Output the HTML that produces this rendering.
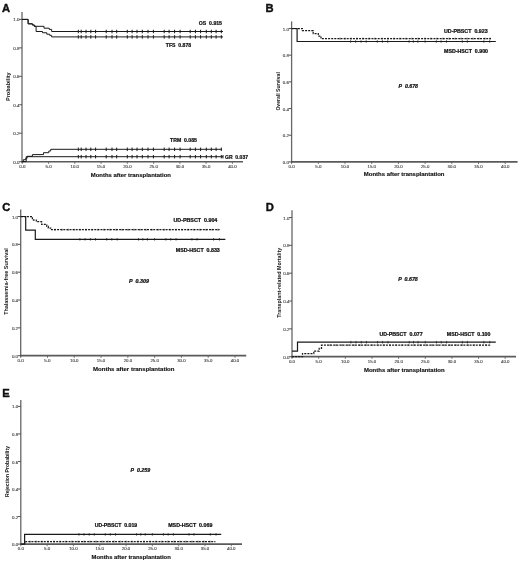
<!DOCTYPE html>
<html><head><meta charset="utf-8"><style>
html,body{margin:0;padding:0;background:#fff;width:520px;height:563px;overflow:hidden;font-family:"Liberation Sans", sans-serif;}
svg{display:block;filter:blur(0.35px);}
</style></head><body>
<svg width="520" height="563" viewBox="0 0 520 563" font-family='"Liberation Sans", sans-serif'><line x1="22.00" y1="12.00" x2="22.00" y2="162.70" stroke="#666" stroke-width="1.3"/>
<line x1="21.40" y1="161.70" x2="243.00" y2="161.70" stroke="#5a5a5a" stroke-width="1.5"/>
<line x1="19.20" y1="161.70" x2="22.00" y2="161.70" stroke="#444" stroke-width="0.9"/>
<text x="13.20" y="163.75" font-size="4.1" font-weight="normal" font-style="normal" fill="#444" text-anchor="start" stroke="#444" stroke-width="0.12" textLength="6.20" lengthAdjust="spacingAndGlyphs">0.0</text>
<line x1="19.20" y1="133.24" x2="22.00" y2="133.24" stroke="#444" stroke-width="0.9"/>
<text x="13.20" y="135.29" font-size="4.1" font-weight="normal" font-style="normal" fill="#444" text-anchor="start" stroke="#444" stroke-width="0.12" textLength="6.20" lengthAdjust="spacingAndGlyphs">0.2</text>
<line x1="19.20" y1="104.78" x2="22.00" y2="104.78" stroke="#444" stroke-width="0.9"/>
<text x="13.20" y="106.83" font-size="4.1" font-weight="normal" font-style="normal" fill="#444" text-anchor="start" stroke="#444" stroke-width="0.12" textLength="6.20" lengthAdjust="spacingAndGlyphs">0.4</text>
<line x1="19.20" y1="76.32" x2="22.00" y2="76.32" stroke="#444" stroke-width="0.9"/>
<text x="13.20" y="78.37" font-size="4.1" font-weight="normal" font-style="normal" fill="#444" text-anchor="start" stroke="#444" stroke-width="0.12" textLength="6.20" lengthAdjust="spacingAndGlyphs">0.6</text>
<line x1="19.20" y1="47.86" x2="22.00" y2="47.86" stroke="#444" stroke-width="0.9"/>
<text x="13.20" y="49.91" font-size="4.1" font-weight="normal" font-style="normal" fill="#444" text-anchor="start" stroke="#444" stroke-width="0.12" textLength="6.20" lengthAdjust="spacingAndGlyphs">0.8</text>
<line x1="19.20" y1="19.40" x2="22.00" y2="19.40" stroke="#444" stroke-width="0.9"/>
<text x="13.20" y="21.45" font-size="4.1" font-weight="normal" font-style="normal" fill="#444" text-anchor="start" stroke="#444" stroke-width="0.12" textLength="6.20" lengthAdjust="spacingAndGlyphs">1.0</text>
<line x1="22.30" y1="161.70" x2="22.30" y2="163.90" stroke="#5a5a5a" stroke-width="0.8"/>
<text x="19.20" y="168.45" font-size="4.1" font-weight="normal" font-style="normal" fill="#444" text-anchor="start" stroke="#444" stroke-width="0.12" textLength="6.20" lengthAdjust="spacingAndGlyphs">0.0</text>
<line x1="48.56" y1="161.70" x2="48.56" y2="163.90" stroke="#5a5a5a" stroke-width="0.8"/>
<text x="45.46" y="168.45" font-size="4.1" font-weight="normal" font-style="normal" fill="#444" text-anchor="start" stroke="#444" stroke-width="0.12" textLength="6.20" lengthAdjust="spacingAndGlyphs">5.0</text>
<line x1="74.83" y1="161.70" x2="74.83" y2="163.90" stroke="#5a5a5a" stroke-width="0.8"/>
<text x="70.62" y="168.45" font-size="4.1" font-weight="normal" font-style="normal" fill="#444" text-anchor="start" stroke="#444" stroke-width="0.12" textLength="8.40" lengthAdjust="spacingAndGlyphs">10.0</text>
<line x1="101.09" y1="161.70" x2="101.09" y2="163.90" stroke="#5a5a5a" stroke-width="0.8"/>
<text x="96.89" y="168.45" font-size="4.1" font-weight="normal" font-style="normal" fill="#444" text-anchor="start" stroke="#444" stroke-width="0.12" textLength="8.40" lengthAdjust="spacingAndGlyphs">15.0</text>
<line x1="127.35" y1="161.70" x2="127.35" y2="163.90" stroke="#5a5a5a" stroke-width="0.8"/>
<text x="123.15" y="168.45" font-size="4.1" font-weight="normal" font-style="normal" fill="#444" text-anchor="start" stroke="#444" stroke-width="0.12" textLength="8.40" lengthAdjust="spacingAndGlyphs">20.0</text>
<line x1="153.61" y1="161.70" x2="153.61" y2="163.90" stroke="#5a5a5a" stroke-width="0.8"/>
<text x="149.41" y="168.45" font-size="4.1" font-weight="normal" font-style="normal" fill="#444" text-anchor="start" stroke="#444" stroke-width="0.12" textLength="8.40" lengthAdjust="spacingAndGlyphs">25.0</text>
<line x1="179.88" y1="161.70" x2="179.88" y2="163.90" stroke="#5a5a5a" stroke-width="0.8"/>
<text x="175.68" y="168.45" font-size="4.1" font-weight="normal" font-style="normal" fill="#444" text-anchor="start" stroke="#444" stroke-width="0.12" textLength="8.40" lengthAdjust="spacingAndGlyphs">30.0</text>
<line x1="206.14" y1="161.70" x2="206.14" y2="163.90" stroke="#5a5a5a" stroke-width="0.8"/>
<text x="201.94" y="168.45" font-size="4.1" font-weight="normal" font-style="normal" fill="#444" text-anchor="start" stroke="#444" stroke-width="0.12" textLength="8.40" lengthAdjust="spacingAndGlyphs">35.0</text>
<line x1="232.40" y1="161.70" x2="232.40" y2="163.90" stroke="#5a5a5a" stroke-width="0.8"/>
<text x="228.20" y="168.45" font-size="4.1" font-weight="normal" font-style="normal" fill="#444" text-anchor="start" stroke="#444" stroke-width="0.12" textLength="8.40" lengthAdjust="spacingAndGlyphs">40.0</text>
<text x="2.00" y="11.50" font-size="11.2" font-weight="bold" font-style="normal" fill="#111" text-anchor="start" stroke="#111" stroke-width="0.4">A</text>
<text x="10.20" y="86.70" font-size="5.5" font-weight="bold" font-style="normal" fill="#111" text-anchor="middle" textLength="28.60" lengthAdjust="spacingAndGlyphs" transform="rotate(-90 10.20 86.70)">Probability</text>
<text x="90.70" y="176.70" font-size="6" font-weight="bold" font-style="normal" fill="#111" text-anchor="start" stroke="#111" stroke-width="0.15" textLength="80.30" lengthAdjust="spacingAndGlyphs">Months after transplantation</text>
<path d="M22.10,19.40 H28.10 V23.80 H32.40 V25.00 H34.30 V26.30 H44.00 V28.20 H49.25 V29.40 H51.65 V31.50 H223.00 V31.50" fill="none" stroke="#1a1a1a" stroke-width="1.0"/>
<path d="M22.10,19.40 H28.10 V23.80 H32.40 V25.00 H34.30 V26.30 H36.10 V31.50 H42.50 V32.75 H46.80 V34.20 H49.70 V35.40 H51.60 V36.90 H223.00 V36.90" fill="none" stroke="#1a1a1a" stroke-width="1.0"/>
<line x1="78.30" y1="29.75" x2="78.30" y2="33.25" stroke="#1a1a1a" stroke-width="1.0"/>
<line x1="81.20" y1="29.75" x2="81.20" y2="33.25" stroke="#1a1a1a" stroke-width="1.0"/>
<line x1="86.00" y1="29.75" x2="86.00" y2="33.25" stroke="#1a1a1a" stroke-width="1.0"/>
<line x1="90.80" y1="29.75" x2="90.80" y2="33.25" stroke="#1a1a1a" stroke-width="1.0"/>
<line x1="95.60" y1="29.75" x2="95.60" y2="33.25" stroke="#1a1a1a" stroke-width="1.0"/>
<line x1="106.20" y1="29.75" x2="106.20" y2="33.25" stroke="#1a1a1a" stroke-width="1.0"/>
<line x1="112.00" y1="29.75" x2="112.00" y2="33.25" stroke="#1a1a1a" stroke-width="1.0"/>
<line x1="116.70" y1="29.75" x2="116.70" y2="33.25" stroke="#1a1a1a" stroke-width="1.0"/>
<line x1="127.30" y1="29.75" x2="127.30" y2="33.25" stroke="#1a1a1a" stroke-width="1.0"/>
<line x1="132.10" y1="29.75" x2="132.10" y2="33.25" stroke="#1a1a1a" stroke-width="1.0"/>
<line x1="137.00" y1="29.75" x2="137.00" y2="33.25" stroke="#1a1a1a" stroke-width="1.0"/>
<line x1="142.30" y1="29.75" x2="142.30" y2="33.25" stroke="#1a1a1a" stroke-width="1.0"/>
<line x1="148.00" y1="29.75" x2="148.00" y2="33.25" stroke="#1a1a1a" stroke-width="1.0"/>
<line x1="153.40" y1="29.75" x2="153.40" y2="33.25" stroke="#1a1a1a" stroke-width="1.0"/>
<line x1="164.20" y1="29.75" x2="164.20" y2="33.25" stroke="#1a1a1a" stroke-width="1.0"/>
<line x1="169.10" y1="29.75" x2="169.10" y2="33.25" stroke="#1a1a1a" stroke-width="1.0"/>
<line x1="174.60" y1="29.75" x2="174.60" y2="33.25" stroke="#1a1a1a" stroke-width="1.0"/>
<line x1="180.10" y1="29.75" x2="180.10" y2="33.25" stroke="#1a1a1a" stroke-width="1.0"/>
<line x1="190.20" y1="29.75" x2="190.20" y2="33.25" stroke="#1a1a1a" stroke-width="1.0"/>
<line x1="195.40" y1="29.75" x2="195.40" y2="33.25" stroke="#1a1a1a" stroke-width="1.0"/>
<line x1="200.60" y1="29.75" x2="200.60" y2="33.25" stroke="#1a1a1a" stroke-width="1.0"/>
<line x1="206.30" y1="29.75" x2="206.30" y2="33.25" stroke="#1a1a1a" stroke-width="1.0"/>
<line x1="211.30" y1="29.75" x2="211.30" y2="33.25" stroke="#1a1a1a" stroke-width="1.0"/>
<line x1="216.10" y1="29.75" x2="216.10" y2="33.25" stroke="#1a1a1a" stroke-width="1.0"/>
<line x1="221.30" y1="29.75" x2="221.30" y2="33.25" stroke="#1a1a1a" stroke-width="1.0"/>
<line x1="78.30" y1="35.15" x2="78.30" y2="38.65" stroke="#1a1a1a" stroke-width="1.0"/>
<line x1="81.20" y1="35.15" x2="81.20" y2="38.65" stroke="#1a1a1a" stroke-width="1.0"/>
<line x1="86.00" y1="35.15" x2="86.00" y2="38.65" stroke="#1a1a1a" stroke-width="1.0"/>
<line x1="90.80" y1="35.15" x2="90.80" y2="38.65" stroke="#1a1a1a" stroke-width="1.0"/>
<line x1="95.60" y1="35.15" x2="95.60" y2="38.65" stroke="#1a1a1a" stroke-width="1.0"/>
<line x1="106.20" y1="35.15" x2="106.20" y2="38.65" stroke="#1a1a1a" stroke-width="1.0"/>
<line x1="112.00" y1="35.15" x2="112.00" y2="38.65" stroke="#1a1a1a" stroke-width="1.0"/>
<line x1="116.70" y1="35.15" x2="116.70" y2="38.65" stroke="#1a1a1a" stroke-width="1.0"/>
<line x1="127.30" y1="35.15" x2="127.30" y2="38.65" stroke="#1a1a1a" stroke-width="1.0"/>
<line x1="132.10" y1="35.15" x2="132.10" y2="38.65" stroke="#1a1a1a" stroke-width="1.0"/>
<line x1="137.00" y1="35.15" x2="137.00" y2="38.65" stroke="#1a1a1a" stroke-width="1.0"/>
<line x1="142.30" y1="35.15" x2="142.30" y2="38.65" stroke="#1a1a1a" stroke-width="1.0"/>
<line x1="148.00" y1="35.15" x2="148.00" y2="38.65" stroke="#1a1a1a" stroke-width="1.0"/>
<line x1="153.40" y1="35.15" x2="153.40" y2="38.65" stroke="#1a1a1a" stroke-width="1.0"/>
<line x1="164.20" y1="35.15" x2="164.20" y2="38.65" stroke="#1a1a1a" stroke-width="1.0"/>
<line x1="169.10" y1="35.15" x2="169.10" y2="38.65" stroke="#1a1a1a" stroke-width="1.0"/>
<line x1="174.60" y1="35.15" x2="174.60" y2="38.65" stroke="#1a1a1a" stroke-width="1.0"/>
<line x1="180.10" y1="35.15" x2="180.10" y2="38.65" stroke="#1a1a1a" stroke-width="1.0"/>
<line x1="190.20" y1="35.15" x2="190.20" y2="38.65" stroke="#1a1a1a" stroke-width="1.0"/>
<line x1="195.40" y1="35.15" x2="195.40" y2="38.65" stroke="#1a1a1a" stroke-width="1.0"/>
<line x1="200.60" y1="35.15" x2="200.60" y2="38.65" stroke="#1a1a1a" stroke-width="1.0"/>
<line x1="206.30" y1="35.15" x2="206.30" y2="38.65" stroke="#1a1a1a" stroke-width="1.0"/>
<line x1="211.30" y1="35.15" x2="211.30" y2="38.65" stroke="#1a1a1a" stroke-width="1.0"/>
<line x1="216.10" y1="35.15" x2="216.10" y2="38.65" stroke="#1a1a1a" stroke-width="1.0"/>
<line x1="221.30" y1="35.15" x2="221.30" y2="38.65" stroke="#1a1a1a" stroke-width="1.0"/>
<path d="M22.10,161.60 H23.30 V159.70 H25.70 V158.30 H27.10 V156.30 H32.40 V154.60 H43.50 V152.70 H48.80 V151.00 H50.70 V149.30 H222.00 V149.30" fill="none" stroke="#1a1a1a" stroke-width="1.0"/>
<path d="M22.10,161.60 H26.20 V156.70 H223.00 V156.70" fill="none" stroke="#1a1a1a" stroke-width="1.0"/>
<line x1="78.30" y1="147.55" x2="78.30" y2="151.05" stroke="#1a1a1a" stroke-width="1.0"/>
<line x1="81.20" y1="147.55" x2="81.20" y2="151.05" stroke="#1a1a1a" stroke-width="1.0"/>
<line x1="86.00" y1="147.55" x2="86.00" y2="151.05" stroke="#1a1a1a" stroke-width="1.0"/>
<line x1="90.80" y1="147.55" x2="90.80" y2="151.05" stroke="#1a1a1a" stroke-width="1.0"/>
<line x1="95.60" y1="147.55" x2="95.60" y2="151.05" stroke="#1a1a1a" stroke-width="1.0"/>
<line x1="106.20" y1="147.55" x2="106.20" y2="151.05" stroke="#1a1a1a" stroke-width="1.0"/>
<line x1="112.00" y1="147.55" x2="112.00" y2="151.05" stroke="#1a1a1a" stroke-width="1.0"/>
<line x1="116.70" y1="147.55" x2="116.70" y2="151.05" stroke="#1a1a1a" stroke-width="1.0"/>
<line x1="127.30" y1="147.55" x2="127.30" y2="151.05" stroke="#1a1a1a" stroke-width="1.0"/>
<line x1="132.10" y1="147.55" x2="132.10" y2="151.05" stroke="#1a1a1a" stroke-width="1.0"/>
<line x1="137.00" y1="147.55" x2="137.00" y2="151.05" stroke="#1a1a1a" stroke-width="1.0"/>
<line x1="142.30" y1="147.55" x2="142.30" y2="151.05" stroke="#1a1a1a" stroke-width="1.0"/>
<line x1="148.00" y1="147.55" x2="148.00" y2="151.05" stroke="#1a1a1a" stroke-width="1.0"/>
<line x1="153.40" y1="147.55" x2="153.40" y2="151.05" stroke="#1a1a1a" stroke-width="1.0"/>
<line x1="164.20" y1="147.55" x2="164.20" y2="151.05" stroke="#1a1a1a" stroke-width="1.0"/>
<line x1="169.10" y1="147.55" x2="169.10" y2="151.05" stroke="#1a1a1a" stroke-width="1.0"/>
<line x1="174.60" y1="147.55" x2="174.60" y2="151.05" stroke="#1a1a1a" stroke-width="1.0"/>
<line x1="180.10" y1="147.55" x2="180.10" y2="151.05" stroke="#1a1a1a" stroke-width="1.0"/>
<line x1="190.20" y1="147.55" x2="190.20" y2="151.05" stroke="#1a1a1a" stroke-width="1.0"/>
<line x1="195.40" y1="147.55" x2="195.40" y2="151.05" stroke="#1a1a1a" stroke-width="1.0"/>
<line x1="200.60" y1="147.55" x2="200.60" y2="151.05" stroke="#1a1a1a" stroke-width="1.0"/>
<line x1="206.30" y1="147.55" x2="206.30" y2="151.05" stroke="#1a1a1a" stroke-width="1.0"/>
<line x1="211.30" y1="147.55" x2="211.30" y2="151.05" stroke="#1a1a1a" stroke-width="1.0"/>
<line x1="216.10" y1="147.55" x2="216.10" y2="151.05" stroke="#1a1a1a" stroke-width="1.0"/>
<line x1="221.30" y1="147.55" x2="221.30" y2="151.05" stroke="#1a1a1a" stroke-width="1.0"/>
<line x1="78.30" y1="154.95" x2="78.30" y2="158.45" stroke="#1a1a1a" stroke-width="1.0"/>
<line x1="81.20" y1="154.95" x2="81.20" y2="158.45" stroke="#1a1a1a" stroke-width="1.0"/>
<line x1="86.00" y1="154.95" x2="86.00" y2="158.45" stroke="#1a1a1a" stroke-width="1.0"/>
<line x1="90.80" y1="154.95" x2="90.80" y2="158.45" stroke="#1a1a1a" stroke-width="1.0"/>
<line x1="95.60" y1="154.95" x2="95.60" y2="158.45" stroke="#1a1a1a" stroke-width="1.0"/>
<line x1="106.20" y1="154.95" x2="106.20" y2="158.45" stroke="#1a1a1a" stroke-width="1.0"/>
<line x1="112.00" y1="154.95" x2="112.00" y2="158.45" stroke="#1a1a1a" stroke-width="1.0"/>
<line x1="116.70" y1="154.95" x2="116.70" y2="158.45" stroke="#1a1a1a" stroke-width="1.0"/>
<line x1="127.30" y1="154.95" x2="127.30" y2="158.45" stroke="#1a1a1a" stroke-width="1.0"/>
<line x1="132.10" y1="154.95" x2="132.10" y2="158.45" stroke="#1a1a1a" stroke-width="1.0"/>
<line x1="137.00" y1="154.95" x2="137.00" y2="158.45" stroke="#1a1a1a" stroke-width="1.0"/>
<line x1="142.30" y1="154.95" x2="142.30" y2="158.45" stroke="#1a1a1a" stroke-width="1.0"/>
<line x1="148.00" y1="154.95" x2="148.00" y2="158.45" stroke="#1a1a1a" stroke-width="1.0"/>
<line x1="153.40" y1="154.95" x2="153.40" y2="158.45" stroke="#1a1a1a" stroke-width="1.0"/>
<line x1="164.20" y1="154.95" x2="164.20" y2="158.45" stroke="#1a1a1a" stroke-width="1.0"/>
<line x1="169.10" y1="154.95" x2="169.10" y2="158.45" stroke="#1a1a1a" stroke-width="1.0"/>
<line x1="174.60" y1="154.95" x2="174.60" y2="158.45" stroke="#1a1a1a" stroke-width="1.0"/>
<line x1="180.10" y1="154.95" x2="180.10" y2="158.45" stroke="#1a1a1a" stroke-width="1.0"/>
<line x1="190.20" y1="154.95" x2="190.20" y2="158.45" stroke="#1a1a1a" stroke-width="1.0"/>
<line x1="195.40" y1="154.95" x2="195.40" y2="158.45" stroke="#1a1a1a" stroke-width="1.0"/>
<line x1="200.60" y1="154.95" x2="200.60" y2="158.45" stroke="#1a1a1a" stroke-width="1.0"/>
<line x1="206.30" y1="154.95" x2="206.30" y2="158.45" stroke="#1a1a1a" stroke-width="1.0"/>
<line x1="211.30" y1="154.95" x2="211.30" y2="158.45" stroke="#1a1a1a" stroke-width="1.0"/>
<line x1="216.10" y1="154.95" x2="216.10" y2="158.45" stroke="#1a1a1a" stroke-width="1.0"/>
<line x1="221.30" y1="154.95" x2="221.30" y2="158.45" stroke="#1a1a1a" stroke-width="1.0"/>
<line x1="223.00" y1="154.95" x2="223.00" y2="158.45" stroke="#1a1a1a" stroke-width="1.0"/>
<text x="198.80" y="24.54" font-size="4.9" font-weight="bold" font-style="normal" fill="#111" text-anchor="start" stroke="#111" stroke-width="0.22" textLength="23.20" lengthAdjust="spacingAndGlyphs">OS&#160;&#160;0.915</text>
<text x="165.80" y="47.14" font-size="4.9" font-weight="bold" font-style="normal" fill="#111" text-anchor="start" stroke="#111" stroke-width="0.22" textLength="25.40" lengthAdjust="spacingAndGlyphs">TFS&#160;&#160;0.878</text>
<text x="170.00" y="142.44" font-size="4.9" font-weight="bold" font-style="normal" fill="#111" text-anchor="start" stroke="#111" stroke-width="0.22" textLength="27.00" lengthAdjust="spacingAndGlyphs">TRM&#160;&#160;0.085</text>
<text x="225.00" y="158.74" font-size="4.9" font-weight="bold" font-style="normal" fill="#111" text-anchor="start" stroke="#111" stroke-width="0.22" textLength="23.00" lengthAdjust="spacingAndGlyphs">GR&#160;&#160;0.037</text>
<line x1="291.60" y1="21.40" x2="291.60" y2="162.90" stroke="#666" stroke-width="1.3"/>
<line x1="291.00" y1="161.90" x2="517.60" y2="161.90" stroke="#5a5a5a" stroke-width="1.75"/>
<line x1="288.80" y1="161.90" x2="291.60" y2="161.90" stroke="#444" stroke-width="0.9"/>
<text x="282.80" y="163.95" font-size="4.1" font-weight="normal" font-style="normal" fill="#444" text-anchor="start" stroke="#444" stroke-width="0.12" textLength="6.20" lengthAdjust="spacingAndGlyphs">0.0</text>
<line x1="288.80" y1="135.22" x2="291.60" y2="135.22" stroke="#444" stroke-width="0.9"/>
<text x="282.80" y="137.27" font-size="4.1" font-weight="normal" font-style="normal" fill="#444" text-anchor="start" stroke="#444" stroke-width="0.12" textLength="6.20" lengthAdjust="spacingAndGlyphs">0.2</text>
<line x1="288.80" y1="108.54" x2="291.60" y2="108.54" stroke="#444" stroke-width="0.9"/>
<text x="282.80" y="110.59" font-size="4.1" font-weight="normal" font-style="normal" fill="#444" text-anchor="start" stroke="#444" stroke-width="0.12" textLength="6.20" lengthAdjust="spacingAndGlyphs">0.4</text>
<line x1="288.80" y1="81.86" x2="291.60" y2="81.86" stroke="#444" stroke-width="0.9"/>
<text x="282.80" y="83.91" font-size="4.1" font-weight="normal" font-style="normal" fill="#444" text-anchor="start" stroke="#444" stroke-width="0.12" textLength="6.20" lengthAdjust="spacingAndGlyphs">0.6</text>
<line x1="288.80" y1="55.18" x2="291.60" y2="55.18" stroke="#444" stroke-width="0.9"/>
<text x="282.80" y="57.23" font-size="4.1" font-weight="normal" font-style="normal" fill="#444" text-anchor="start" stroke="#444" stroke-width="0.12" textLength="6.20" lengthAdjust="spacingAndGlyphs">0.8</text>
<line x1="288.80" y1="28.50" x2="291.60" y2="28.50" stroke="#444" stroke-width="0.9"/>
<text x="282.80" y="30.55" font-size="4.1" font-weight="normal" font-style="normal" fill="#444" text-anchor="start" stroke="#444" stroke-width="0.12" textLength="6.20" lengthAdjust="spacingAndGlyphs">1.0</text>
<line x1="291.60" y1="161.90" x2="291.60" y2="164.10" stroke="#5a5a5a" stroke-width="0.8"/>
<text x="288.50" y="168.00" font-size="4.1" font-weight="normal" font-style="normal" fill="#444" text-anchor="start" stroke="#444" stroke-width="0.12" textLength="6.20" lengthAdjust="spacingAndGlyphs">0.0</text>
<line x1="318.30" y1="161.90" x2="318.30" y2="164.10" stroke="#5a5a5a" stroke-width="0.8"/>
<text x="315.20" y="168.00" font-size="4.1" font-weight="normal" font-style="normal" fill="#444" text-anchor="start" stroke="#444" stroke-width="0.12" textLength="6.20" lengthAdjust="spacingAndGlyphs">5.0</text>
<line x1="345.00" y1="161.90" x2="345.00" y2="164.10" stroke="#5a5a5a" stroke-width="0.8"/>
<text x="340.80" y="168.00" font-size="4.1" font-weight="normal" font-style="normal" fill="#444" text-anchor="start" stroke="#444" stroke-width="0.12" textLength="8.40" lengthAdjust="spacingAndGlyphs">10.0</text>
<line x1="371.70" y1="161.90" x2="371.70" y2="164.10" stroke="#5a5a5a" stroke-width="0.8"/>
<text x="367.50" y="168.00" font-size="4.1" font-weight="normal" font-style="normal" fill="#444" text-anchor="start" stroke="#444" stroke-width="0.12" textLength="8.40" lengthAdjust="spacingAndGlyphs">15.0</text>
<line x1="398.40" y1="161.90" x2="398.40" y2="164.10" stroke="#5a5a5a" stroke-width="0.8"/>
<text x="394.20" y="168.00" font-size="4.1" font-weight="normal" font-style="normal" fill="#444" text-anchor="start" stroke="#444" stroke-width="0.12" textLength="8.40" lengthAdjust="spacingAndGlyphs">20.0</text>
<line x1="425.10" y1="161.90" x2="425.10" y2="164.10" stroke="#5a5a5a" stroke-width="0.8"/>
<text x="420.90" y="168.00" font-size="4.1" font-weight="normal" font-style="normal" fill="#444" text-anchor="start" stroke="#444" stroke-width="0.12" textLength="8.40" lengthAdjust="spacingAndGlyphs">25.0</text>
<line x1="451.80" y1="161.90" x2="451.80" y2="164.10" stroke="#5a5a5a" stroke-width="0.8"/>
<text x="447.60" y="168.00" font-size="4.1" font-weight="normal" font-style="normal" fill="#444" text-anchor="start" stroke="#444" stroke-width="0.12" textLength="8.40" lengthAdjust="spacingAndGlyphs">30.0</text>
<line x1="478.50" y1="161.90" x2="478.50" y2="164.10" stroke="#5a5a5a" stroke-width="0.8"/>
<text x="474.30" y="168.00" font-size="4.1" font-weight="normal" font-style="normal" fill="#444" text-anchor="start" stroke="#444" stroke-width="0.12" textLength="8.40" lengthAdjust="spacingAndGlyphs">35.0</text>
<line x1="505.20" y1="161.90" x2="505.20" y2="164.10" stroke="#5a5a5a" stroke-width="0.8"/>
<text x="501.00" y="168.00" font-size="4.1" font-weight="normal" font-style="normal" fill="#444" text-anchor="start" stroke="#444" stroke-width="0.12" textLength="8.40" lengthAdjust="spacingAndGlyphs">40.0</text>
<text x="265.50" y="11.80" font-size="11.2" font-weight="bold" font-style="normal" fill="#111" text-anchor="start" stroke="#111" stroke-width="0.4">B</text>
<text x="279.70" y="91.40" font-size="5.2" font-weight="bold" font-style="normal" fill="#111" text-anchor="middle" textLength="38.40" lengthAdjust="spacingAndGlyphs" transform="rotate(-90 279.70 91.40)">Overall Survival</text>
<text x="363.80" y="176.00" font-size="6" font-weight="bold" font-style="normal" fill="#111" text-anchor="start" stroke="#111" stroke-width="0.15" textLength="80.70" lengthAdjust="spacingAndGlyphs">Months after transplantation</text>
<path d="M291.70,28.50 H297.10 V41.50 H495.80 V41.50" fill="none" stroke="#1a1a1a" stroke-width="1.2"/>
<path d="M291.70,28.50 H301.00 V28.50 H302.40 V30.60 H313.20 V33.50 H318.30 V36.00 H321.00 V38.60 H491.00 V38.60" fill="none" stroke="#1a1a1a" stroke-width="1.25" stroke-dasharray="2 1.1"/>
<line x1="350.61" y1="40.20" x2="350.61" y2="42.80" stroke="#1a1a1a" stroke-width="0.7"/>
<line x1="355.68" y1="40.20" x2="355.68" y2="42.80" stroke="#1a1a1a" stroke-width="0.7"/>
<line x1="361.02" y1="40.20" x2="361.02" y2="42.80" stroke="#1a1a1a" stroke-width="0.7"/>
<line x1="366.15" y1="40.20" x2="366.15" y2="42.80" stroke="#1a1a1a" stroke-width="0.7"/>
<line x1="377.31" y1="40.20" x2="377.31" y2="42.80" stroke="#1a1a1a" stroke-width="0.7"/>
<line x1="382.38" y1="40.20" x2="382.38" y2="42.80" stroke="#1a1a1a" stroke-width="0.7"/>
<line x1="387.72" y1="40.20" x2="387.72" y2="42.80" stroke="#1a1a1a" stroke-width="0.7"/>
<line x1="409.08" y1="40.20" x2="409.08" y2="42.80" stroke="#1a1a1a" stroke-width="0.7"/>
<line x1="413.35" y1="40.20" x2="413.35" y2="42.80" stroke="#1a1a1a" stroke-width="0.7"/>
<line x1="417.89" y1="40.20" x2="417.89" y2="42.80" stroke="#1a1a1a" stroke-width="0.7"/>
<line x1="425.10" y1="40.20" x2="425.10" y2="42.80" stroke="#1a1a1a" stroke-width="0.7"/>
<line x1="436.31" y1="40.20" x2="436.31" y2="42.80" stroke="#1a1a1a" stroke-width="0.7"/>
<line x1="441.12" y1="40.20" x2="441.12" y2="42.80" stroke="#1a1a1a" stroke-width="0.7"/>
<line x1="446.46" y1="40.20" x2="446.46" y2="42.80" stroke="#1a1a1a" stroke-width="0.7"/>
<line x1="462.27" y1="40.20" x2="462.27" y2="42.80" stroke="#1a1a1a" stroke-width="0.7"/>
<line x1="467.29" y1="40.20" x2="467.29" y2="42.80" stroke="#1a1a1a" stroke-width="0.7"/>
<line x1="483.84" y1="40.20" x2="483.84" y2="42.80" stroke="#1a1a1a" stroke-width="0.7"/>
<line x1="489.71" y1="40.20" x2="489.71" y2="42.80" stroke="#1a1a1a" stroke-width="0.7"/>
<line x1="340.00" y1="37.70" x2="340.00" y2="39.50" stroke="#1a1a1a" stroke-width="0.8"/>
<line x1="345.00" y1="37.70" x2="345.00" y2="39.50" stroke="#1a1a1a" stroke-width="0.8"/>
<line x1="351.00" y1="37.70" x2="351.00" y2="39.50" stroke="#1a1a1a" stroke-width="0.8"/>
<line x1="357.00" y1="37.70" x2="357.00" y2="39.50" stroke="#1a1a1a" stroke-width="0.8"/>
<line x1="363.00" y1="37.70" x2="363.00" y2="39.50" stroke="#1a1a1a" stroke-width="0.8"/>
<line x1="369.00" y1="37.70" x2="369.00" y2="39.50" stroke="#1a1a1a" stroke-width="0.8"/>
<line x1="375.00" y1="37.70" x2="375.00" y2="39.50" stroke="#1a1a1a" stroke-width="0.8"/>
<line x1="382.00" y1="37.70" x2="382.00" y2="39.50" stroke="#1a1a1a" stroke-width="0.8"/>
<line x1="388.00" y1="37.70" x2="388.00" y2="39.50" stroke="#1a1a1a" stroke-width="0.8"/>
<line x1="394.00" y1="37.70" x2="394.00" y2="39.50" stroke="#1a1a1a" stroke-width="0.8"/>
<line x1="400.00" y1="37.70" x2="400.00" y2="39.50" stroke="#1a1a1a" stroke-width="0.8"/>
<line x1="406.00" y1="37.70" x2="406.00" y2="39.50" stroke="#1a1a1a" stroke-width="0.8"/>
<line x1="412.00" y1="37.70" x2="412.00" y2="39.50" stroke="#1a1a1a" stroke-width="0.8"/>
<line x1="418.00" y1="37.70" x2="418.00" y2="39.50" stroke="#1a1a1a" stroke-width="0.8"/>
<line x1="425.00" y1="37.70" x2="425.00" y2="39.50" stroke="#1a1a1a" stroke-width="0.8"/>
<line x1="431.00" y1="37.70" x2="431.00" y2="39.50" stroke="#1a1a1a" stroke-width="0.8"/>
<line x1="437.00" y1="37.70" x2="437.00" y2="39.50" stroke="#1a1a1a" stroke-width="0.8"/>
<line x1="443.00" y1="37.70" x2="443.00" y2="39.50" stroke="#1a1a1a" stroke-width="0.8"/>
<line x1="449.00" y1="37.70" x2="449.00" y2="39.50" stroke="#1a1a1a" stroke-width="0.8"/>
<line x1="455.00" y1="37.70" x2="455.00" y2="39.50" stroke="#1a1a1a" stroke-width="0.8"/>
<line x1="461.00" y1="37.70" x2="461.00" y2="39.50" stroke="#1a1a1a" stroke-width="0.8"/>
<line x1="467.00" y1="37.70" x2="467.00" y2="39.50" stroke="#1a1a1a" stroke-width="0.8"/>
<line x1="473.00" y1="37.70" x2="473.00" y2="39.50" stroke="#1a1a1a" stroke-width="0.8"/>
<line x1="479.00" y1="37.70" x2="479.00" y2="39.50" stroke="#1a1a1a" stroke-width="0.8"/>
<line x1="485.00" y1="37.70" x2="485.00" y2="39.50" stroke="#1a1a1a" stroke-width="0.8"/>
<line x1="490.00" y1="37.70" x2="490.00" y2="39.50" stroke="#1a1a1a" stroke-width="0.8"/>
<text x="444.00" y="33.41" font-size="4.8" font-weight="bold" font-style="normal" fill="#111" text-anchor="start" stroke="#111" stroke-width="0.22" textLength="43.70" lengthAdjust="spacingAndGlyphs">UD-PBSCT&#160;&#160;0.923</text>
<text x="444.00" y="52.91" font-size="4.8" font-weight="bold" font-style="normal" fill="#111" text-anchor="start" stroke="#111" stroke-width="0.22" textLength="44.00" lengthAdjust="spacingAndGlyphs">MSD-HSCT&#160;&#160;0.900</text>
<text x="398.50" y="88.21" font-size="4.8" font-weight="bold" font-style="italic" fill="#111" text-anchor="start" stroke="#111" stroke-width="0.22" textLength="19.50" lengthAdjust="spacingAndGlyphs">P&#160;&#160;0.678</text>
<line x1="20.70" y1="209.40" x2="20.70" y2="356.70" stroke="#666" stroke-width="1.3"/>
<line x1="20.10" y1="355.70" x2="246.25" y2="355.70" stroke="#5a5a5a" stroke-width="1.75"/>
<line x1="17.90" y1="355.70" x2="20.70" y2="355.70" stroke="#444" stroke-width="0.9"/>
<text x="11.90" y="357.75" font-size="4.1" font-weight="normal" font-style="normal" fill="#444" text-anchor="start" stroke="#444" stroke-width="0.12" textLength="6.20" lengthAdjust="spacingAndGlyphs">0.0</text>
<line x1="17.90" y1="327.86" x2="20.70" y2="327.86" stroke="#444" stroke-width="0.9"/>
<text x="11.90" y="329.91" font-size="4.1" font-weight="normal" font-style="normal" fill="#444" text-anchor="start" stroke="#444" stroke-width="0.12" textLength="6.20" lengthAdjust="spacingAndGlyphs">0.2</text>
<line x1="17.90" y1="300.02" x2="20.70" y2="300.02" stroke="#444" stroke-width="0.9"/>
<text x="11.90" y="302.07" font-size="4.1" font-weight="normal" font-style="normal" fill="#444" text-anchor="start" stroke="#444" stroke-width="0.12" textLength="6.20" lengthAdjust="spacingAndGlyphs">0.4</text>
<line x1="17.90" y1="272.18" x2="20.70" y2="272.18" stroke="#444" stroke-width="0.9"/>
<text x="11.90" y="274.23" font-size="4.1" font-weight="normal" font-style="normal" fill="#444" text-anchor="start" stroke="#444" stroke-width="0.12" textLength="6.20" lengthAdjust="spacingAndGlyphs">0.6</text>
<line x1="17.90" y1="244.34" x2="20.70" y2="244.34" stroke="#444" stroke-width="0.9"/>
<text x="11.90" y="246.39" font-size="4.1" font-weight="normal" font-style="normal" fill="#444" text-anchor="start" stroke="#444" stroke-width="0.12" textLength="6.20" lengthAdjust="spacingAndGlyphs">0.8</text>
<line x1="17.90" y1="216.50" x2="20.70" y2="216.50" stroke="#444" stroke-width="0.9"/>
<text x="11.90" y="218.55" font-size="4.1" font-weight="normal" font-style="normal" fill="#444" text-anchor="start" stroke="#444" stroke-width="0.12" textLength="6.20" lengthAdjust="spacingAndGlyphs">1.0</text>
<line x1="20.70" y1="355.70" x2="20.70" y2="357.90" stroke="#5a5a5a" stroke-width="0.8"/>
<text x="17.60" y="361.80" font-size="4.1" font-weight="normal" font-style="normal" fill="#444" text-anchor="start" stroke="#444" stroke-width="0.12" textLength="6.20" lengthAdjust="spacingAndGlyphs">0.0</text>
<line x1="47.49" y1="355.70" x2="47.49" y2="357.90" stroke="#5a5a5a" stroke-width="0.8"/>
<text x="44.39" y="361.80" font-size="4.1" font-weight="normal" font-style="normal" fill="#444" text-anchor="start" stroke="#444" stroke-width="0.12" textLength="6.20" lengthAdjust="spacingAndGlyphs">5.0</text>
<line x1="74.28" y1="355.70" x2="74.28" y2="357.90" stroke="#5a5a5a" stroke-width="0.8"/>
<text x="70.08" y="361.80" font-size="4.1" font-weight="normal" font-style="normal" fill="#444" text-anchor="start" stroke="#444" stroke-width="0.12" textLength="8.40" lengthAdjust="spacingAndGlyphs">10.0</text>
<line x1="101.06" y1="355.70" x2="101.06" y2="357.90" stroke="#5a5a5a" stroke-width="0.8"/>
<text x="96.86" y="361.80" font-size="4.1" font-weight="normal" font-style="normal" fill="#444" text-anchor="start" stroke="#444" stroke-width="0.12" textLength="8.40" lengthAdjust="spacingAndGlyphs">15.0</text>
<line x1="127.85" y1="355.70" x2="127.85" y2="357.90" stroke="#5a5a5a" stroke-width="0.8"/>
<text x="123.65" y="361.80" font-size="4.1" font-weight="normal" font-style="normal" fill="#444" text-anchor="start" stroke="#444" stroke-width="0.12" textLength="8.40" lengthAdjust="spacingAndGlyphs">20.0</text>
<line x1="154.64" y1="355.70" x2="154.64" y2="357.90" stroke="#5a5a5a" stroke-width="0.8"/>
<text x="150.44" y="361.80" font-size="4.1" font-weight="normal" font-style="normal" fill="#444" text-anchor="start" stroke="#444" stroke-width="0.12" textLength="8.40" lengthAdjust="spacingAndGlyphs">25.0</text>
<line x1="181.42" y1="355.70" x2="181.42" y2="357.90" stroke="#5a5a5a" stroke-width="0.8"/>
<text x="177.22" y="361.80" font-size="4.1" font-weight="normal" font-style="normal" fill="#444" text-anchor="start" stroke="#444" stroke-width="0.12" textLength="8.40" lengthAdjust="spacingAndGlyphs">30.0</text>
<line x1="208.21" y1="355.70" x2="208.21" y2="357.90" stroke="#5a5a5a" stroke-width="0.8"/>
<text x="204.01" y="361.80" font-size="4.1" font-weight="normal" font-style="normal" fill="#444" text-anchor="start" stroke="#444" stroke-width="0.12" textLength="8.40" lengthAdjust="spacingAndGlyphs">35.0</text>
<line x1="235.00" y1="355.70" x2="235.00" y2="357.90" stroke="#5a5a5a" stroke-width="0.8"/>
<text x="230.80" y="361.80" font-size="4.1" font-weight="normal" font-style="normal" fill="#444" text-anchor="start" stroke="#444" stroke-width="0.12" textLength="8.40" lengthAdjust="spacingAndGlyphs">40.0</text>
<text x="2.20" y="210.90" font-size="11.2" font-weight="bold" font-style="normal" fill="#111" text-anchor="start" stroke="#111" stroke-width="0.4">C</text>
<text x="8.30" y="281.50" font-size="5.4" font-weight="bold" font-style="normal" fill="#111" text-anchor="middle" textLength="66.60" lengthAdjust="spacingAndGlyphs" transform="rotate(-90 8.30 281.50)">Thalassemia-free Survival</text>
<text x="93.00" y="371.30" font-size="6" font-weight="bold" font-style="normal" fill="#111" text-anchor="start" stroke="#111" stroke-width="0.15" textLength="81.50" lengthAdjust="spacingAndGlyphs">Months after transplantation</text>
<path d="M20.70,216.50 H25.70 V230.20 H35.30 V239.30 H225.40 V239.30" fill="none" stroke="#1a1a1a" stroke-width="1.2"/>
<path d="M20.70,216.50 H30.50 V216.50 H32.40 V218.70 H33.50 V220.10 H36.30 V221.70 H41.60 V224.40 H46.80 V226.30 H48.30 V228.00 H50.70 V229.70 H219.60 V229.70" fill="none" stroke="#1a1a1a" stroke-width="1.25" stroke-dasharray="2 1.1"/>
<line x1="79.90" y1="238.00" x2="79.90" y2="240.60" stroke="#1a1a1a" stroke-width="0.7"/>
<line x1="84.99" y1="238.00" x2="84.99" y2="240.60" stroke="#1a1a1a" stroke-width="0.7"/>
<line x1="90.35" y1="238.00" x2="90.35" y2="240.60" stroke="#1a1a1a" stroke-width="0.7"/>
<line x1="95.49" y1="238.00" x2="95.49" y2="240.60" stroke="#1a1a1a" stroke-width="0.7"/>
<line x1="106.69" y1="238.00" x2="106.69" y2="240.60" stroke="#1a1a1a" stroke-width="0.7"/>
<line x1="111.78" y1="238.00" x2="111.78" y2="240.60" stroke="#1a1a1a" stroke-width="0.7"/>
<line x1="117.14" y1="238.00" x2="117.14" y2="240.60" stroke="#1a1a1a" stroke-width="0.7"/>
<line x1="138.56" y1="238.00" x2="138.56" y2="240.60" stroke="#1a1a1a" stroke-width="0.7"/>
<line x1="142.85" y1="238.00" x2="142.85" y2="240.60" stroke="#1a1a1a" stroke-width="0.7"/>
<line x1="147.40" y1="238.00" x2="147.40" y2="240.60" stroke="#1a1a1a" stroke-width="0.7"/>
<line x1="154.64" y1="238.00" x2="154.64" y2="240.60" stroke="#1a1a1a" stroke-width="0.7"/>
<line x1="165.89" y1="238.00" x2="165.89" y2="240.60" stroke="#1a1a1a" stroke-width="0.7"/>
<line x1="170.71" y1="238.00" x2="170.71" y2="240.60" stroke="#1a1a1a" stroke-width="0.7"/>
<line x1="176.07" y1="238.00" x2="176.07" y2="240.60" stroke="#1a1a1a" stroke-width="0.7"/>
<line x1="191.93" y1="238.00" x2="191.93" y2="240.60" stroke="#1a1a1a" stroke-width="0.7"/>
<line x1="196.96" y1="238.00" x2="196.96" y2="240.60" stroke="#1a1a1a" stroke-width="0.7"/>
<line x1="213.57" y1="238.00" x2="213.57" y2="240.60" stroke="#1a1a1a" stroke-width="0.7"/>
<line x1="219.46" y1="238.00" x2="219.46" y2="240.60" stroke="#1a1a1a" stroke-width="0.7"/>
<line x1="55.00" y1="228.80" x2="55.00" y2="230.60" stroke="#1a1a1a" stroke-width="0.8"/>
<line x1="62.00" y1="228.80" x2="62.00" y2="230.60" stroke="#1a1a1a" stroke-width="0.8"/>
<line x1="68.00" y1="228.80" x2="68.00" y2="230.60" stroke="#1a1a1a" stroke-width="0.8"/>
<line x1="74.00" y1="228.80" x2="74.00" y2="230.60" stroke="#1a1a1a" stroke-width="0.8"/>
<line x1="80.00" y1="228.80" x2="80.00" y2="230.60" stroke="#1a1a1a" stroke-width="0.8"/>
<line x1="86.00" y1="228.80" x2="86.00" y2="230.60" stroke="#1a1a1a" stroke-width="0.8"/>
<line x1="92.00" y1="228.80" x2="92.00" y2="230.60" stroke="#1a1a1a" stroke-width="0.8"/>
<line x1="98.00" y1="228.80" x2="98.00" y2="230.60" stroke="#1a1a1a" stroke-width="0.8"/>
<line x1="104.00" y1="228.80" x2="104.00" y2="230.60" stroke="#1a1a1a" stroke-width="0.8"/>
<line x1="110.00" y1="228.80" x2="110.00" y2="230.60" stroke="#1a1a1a" stroke-width="0.8"/>
<line x1="116.00" y1="228.80" x2="116.00" y2="230.60" stroke="#1a1a1a" stroke-width="0.8"/>
<line x1="122.00" y1="228.80" x2="122.00" y2="230.60" stroke="#1a1a1a" stroke-width="0.8"/>
<line x1="128.00" y1="228.80" x2="128.00" y2="230.60" stroke="#1a1a1a" stroke-width="0.8"/>
<line x1="134.00" y1="228.80" x2="134.00" y2="230.60" stroke="#1a1a1a" stroke-width="0.8"/>
<line x1="140.00" y1="228.80" x2="140.00" y2="230.60" stroke="#1a1a1a" stroke-width="0.8"/>
<line x1="146.00" y1="228.80" x2="146.00" y2="230.60" stroke="#1a1a1a" stroke-width="0.8"/>
<line x1="152.00" y1="228.80" x2="152.00" y2="230.60" stroke="#1a1a1a" stroke-width="0.8"/>
<line x1="158.00" y1="228.80" x2="158.00" y2="230.60" stroke="#1a1a1a" stroke-width="0.8"/>
<line x1="164.00" y1="228.80" x2="164.00" y2="230.60" stroke="#1a1a1a" stroke-width="0.8"/>
<line x1="170.00" y1="228.80" x2="170.00" y2="230.60" stroke="#1a1a1a" stroke-width="0.8"/>
<line x1="176.00" y1="228.80" x2="176.00" y2="230.60" stroke="#1a1a1a" stroke-width="0.8"/>
<line x1="182.00" y1="228.80" x2="182.00" y2="230.60" stroke="#1a1a1a" stroke-width="0.8"/>
<line x1="188.00" y1="228.80" x2="188.00" y2="230.60" stroke="#1a1a1a" stroke-width="0.8"/>
<line x1="194.00" y1="228.80" x2="194.00" y2="230.60" stroke="#1a1a1a" stroke-width="0.8"/>
<line x1="200.00" y1="228.80" x2="200.00" y2="230.60" stroke="#1a1a1a" stroke-width="0.8"/>
<line x1="206.00" y1="228.80" x2="206.00" y2="230.60" stroke="#1a1a1a" stroke-width="0.8"/>
<line x1="212.00" y1="228.80" x2="212.00" y2="230.60" stroke="#1a1a1a" stroke-width="0.8"/>
<line x1="218.00" y1="228.80" x2="218.00" y2="230.60" stroke="#1a1a1a" stroke-width="0.8"/>
<text x="173.50" y="221.71" font-size="4.8" font-weight="bold" font-style="normal" fill="#111" text-anchor="start" stroke="#111" stroke-width="0.22" textLength="43.80" lengthAdjust="spacingAndGlyphs">UD-PBSCT&#160;&#160;0.904</text>
<text x="175.80" y="251.51" font-size="4.8" font-weight="bold" font-style="normal" fill="#111" text-anchor="start" stroke="#111" stroke-width="0.22" textLength="44.00" lengthAdjust="spacingAndGlyphs">MSD-HSCT&#160;&#160;0.833</text>
<text x="129.00" y="283.11" font-size="4.8" font-weight="bold" font-style="italic" fill="#111" text-anchor="start" stroke="#111" stroke-width="0.22" textLength="20.00" lengthAdjust="spacingAndGlyphs">P&#160;&#160;0.309</text>
<line x1="292.00" y1="210.20" x2="292.00" y2="357.70" stroke="#666" stroke-width="1.3"/>
<line x1="291.40" y1="356.70" x2="516.00" y2="356.70" stroke="#5a5a5a" stroke-width="1.75"/>
<line x1="289.20" y1="356.70" x2="292.00" y2="356.70" stroke="#444" stroke-width="0.9"/>
<text x="283.20" y="358.75" font-size="4.1" font-weight="normal" font-style="normal" fill="#444" text-anchor="start" stroke="#444" stroke-width="0.12" textLength="6.20" lengthAdjust="spacingAndGlyphs">0.0</text>
<line x1="289.20" y1="328.86" x2="292.00" y2="328.86" stroke="#444" stroke-width="0.9"/>
<text x="283.20" y="330.91" font-size="4.1" font-weight="normal" font-style="normal" fill="#444" text-anchor="start" stroke="#444" stroke-width="0.12" textLength="6.20" lengthAdjust="spacingAndGlyphs">0.2</text>
<line x1="289.20" y1="301.02" x2="292.00" y2="301.02" stroke="#444" stroke-width="0.9"/>
<text x="283.20" y="303.07" font-size="4.1" font-weight="normal" font-style="normal" fill="#444" text-anchor="start" stroke="#444" stroke-width="0.12" textLength="6.20" lengthAdjust="spacingAndGlyphs">0.4</text>
<line x1="289.20" y1="273.18" x2="292.00" y2="273.18" stroke="#444" stroke-width="0.9"/>
<text x="283.20" y="275.23" font-size="4.1" font-weight="normal" font-style="normal" fill="#444" text-anchor="start" stroke="#444" stroke-width="0.12" textLength="6.20" lengthAdjust="spacingAndGlyphs">0.6</text>
<line x1="289.20" y1="245.34" x2="292.00" y2="245.34" stroke="#444" stroke-width="0.9"/>
<text x="283.20" y="247.39" font-size="4.1" font-weight="normal" font-style="normal" fill="#444" text-anchor="start" stroke="#444" stroke-width="0.12" textLength="6.20" lengthAdjust="spacingAndGlyphs">0.8</text>
<line x1="289.20" y1="217.50" x2="292.00" y2="217.50" stroke="#444" stroke-width="0.9"/>
<text x="283.20" y="219.55" font-size="4.1" font-weight="normal" font-style="normal" fill="#444" text-anchor="start" stroke="#444" stroke-width="0.12" textLength="6.20" lengthAdjust="spacingAndGlyphs">1.0</text>
<line x1="292.00" y1="356.70" x2="292.00" y2="358.90" stroke="#5a5a5a" stroke-width="0.8"/>
<text x="288.90" y="362.80" font-size="4.1" font-weight="normal" font-style="normal" fill="#444" text-anchor="start" stroke="#444" stroke-width="0.12" textLength="6.20" lengthAdjust="spacingAndGlyphs">0.0</text>
<line x1="318.65" y1="356.70" x2="318.65" y2="358.90" stroke="#5a5a5a" stroke-width="0.8"/>
<text x="315.55" y="362.80" font-size="4.1" font-weight="normal" font-style="normal" fill="#444" text-anchor="start" stroke="#444" stroke-width="0.12" textLength="6.20" lengthAdjust="spacingAndGlyphs">5.0</text>
<line x1="345.30" y1="356.70" x2="345.30" y2="358.90" stroke="#5a5a5a" stroke-width="0.8"/>
<text x="341.10" y="362.80" font-size="4.1" font-weight="normal" font-style="normal" fill="#444" text-anchor="start" stroke="#444" stroke-width="0.12" textLength="8.40" lengthAdjust="spacingAndGlyphs">10.0</text>
<line x1="371.95" y1="356.70" x2="371.95" y2="358.90" stroke="#5a5a5a" stroke-width="0.8"/>
<text x="367.75" y="362.80" font-size="4.1" font-weight="normal" font-style="normal" fill="#444" text-anchor="start" stroke="#444" stroke-width="0.12" textLength="8.40" lengthAdjust="spacingAndGlyphs">15.0</text>
<line x1="398.60" y1="356.70" x2="398.60" y2="358.90" stroke="#5a5a5a" stroke-width="0.8"/>
<text x="394.40" y="362.80" font-size="4.1" font-weight="normal" font-style="normal" fill="#444" text-anchor="start" stroke="#444" stroke-width="0.12" textLength="8.40" lengthAdjust="spacingAndGlyphs">20.0</text>
<line x1="425.25" y1="356.70" x2="425.25" y2="358.90" stroke="#5a5a5a" stroke-width="0.8"/>
<text x="421.05" y="362.80" font-size="4.1" font-weight="normal" font-style="normal" fill="#444" text-anchor="start" stroke="#444" stroke-width="0.12" textLength="8.40" lengthAdjust="spacingAndGlyphs">25.0</text>
<line x1="451.90" y1="356.70" x2="451.90" y2="358.90" stroke="#5a5a5a" stroke-width="0.8"/>
<text x="447.70" y="362.80" font-size="4.1" font-weight="normal" font-style="normal" fill="#444" text-anchor="start" stroke="#444" stroke-width="0.12" textLength="8.40" lengthAdjust="spacingAndGlyphs">30.0</text>
<line x1="478.55" y1="356.70" x2="478.55" y2="358.90" stroke="#5a5a5a" stroke-width="0.8"/>
<text x="474.35" y="362.80" font-size="4.1" font-weight="normal" font-style="normal" fill="#444" text-anchor="start" stroke="#444" stroke-width="0.12" textLength="8.40" lengthAdjust="spacingAndGlyphs">35.0</text>
<line x1="505.20" y1="356.70" x2="505.20" y2="358.90" stroke="#5a5a5a" stroke-width="0.8"/>
<text x="501.00" y="362.80" font-size="4.1" font-weight="normal" font-style="normal" fill="#444" text-anchor="start" stroke="#444" stroke-width="0.12" textLength="8.40" lengthAdjust="spacingAndGlyphs">40.0</text>
<text x="265.80" y="210.90" font-size="11.2" font-weight="bold" font-style="normal" fill="#111" text-anchor="start" stroke="#111" stroke-width="0.4">D</text>
<text x="281.50" y="282.80" font-size="5.3" font-weight="bold" font-style="normal" fill="#111" text-anchor="middle" textLength="70.00" lengthAdjust="spacingAndGlyphs" transform="rotate(-90 281.50 282.80)">Transplant-related Mortality</text>
<text x="364.00" y="372.20" font-size="6" font-weight="bold" font-style="normal" fill="#111" text-anchor="start" stroke="#111" stroke-width="0.15" textLength="80.60" lengthAdjust="spacingAndGlyphs">Months after transplantation</text>
<path d="M292.00,351.20 H297.50 V342.20 H495.80 V342.20" fill="none" stroke="#1a1a1a" stroke-width="1.2"/>
<path d="M292.00,356.70 H302.50 V353.50 H313.80 V351.00 H319.20 V348.30 H321.50 V345.20 H490.40 V345.20" fill="none" stroke="#1a1a1a" stroke-width="1.25" stroke-dasharray="2 1.1"/>
<line x1="350.90" y1="340.90" x2="350.90" y2="343.50" stroke="#1a1a1a" stroke-width="0.7"/>
<line x1="355.96" y1="340.90" x2="355.96" y2="343.50" stroke="#1a1a1a" stroke-width="0.7"/>
<line x1="361.29" y1="340.90" x2="361.29" y2="343.50" stroke="#1a1a1a" stroke-width="0.7"/>
<line x1="366.41" y1="340.90" x2="366.41" y2="343.50" stroke="#1a1a1a" stroke-width="0.7"/>
<line x1="377.55" y1="340.90" x2="377.55" y2="343.50" stroke="#1a1a1a" stroke-width="0.7"/>
<line x1="382.61" y1="340.90" x2="382.61" y2="343.50" stroke="#1a1a1a" stroke-width="0.7"/>
<line x1="387.94" y1="340.90" x2="387.94" y2="343.50" stroke="#1a1a1a" stroke-width="0.7"/>
<line x1="409.26" y1="340.90" x2="409.26" y2="343.50" stroke="#1a1a1a" stroke-width="0.7"/>
<line x1="413.52" y1="340.90" x2="413.52" y2="343.50" stroke="#1a1a1a" stroke-width="0.7"/>
<line x1="418.05" y1="340.90" x2="418.05" y2="343.50" stroke="#1a1a1a" stroke-width="0.7"/>
<line x1="425.25" y1="340.90" x2="425.25" y2="343.50" stroke="#1a1a1a" stroke-width="0.7"/>
<line x1="436.44" y1="340.90" x2="436.44" y2="343.50" stroke="#1a1a1a" stroke-width="0.7"/>
<line x1="441.24" y1="340.90" x2="441.24" y2="343.50" stroke="#1a1a1a" stroke-width="0.7"/>
<line x1="446.57" y1="340.90" x2="446.57" y2="343.50" stroke="#1a1a1a" stroke-width="0.7"/>
<line x1="462.35" y1="340.90" x2="462.35" y2="343.50" stroke="#1a1a1a" stroke-width="0.7"/>
<line x1="467.36" y1="340.90" x2="467.36" y2="343.50" stroke="#1a1a1a" stroke-width="0.7"/>
<line x1="483.88" y1="340.90" x2="483.88" y2="343.50" stroke="#1a1a1a" stroke-width="0.7"/>
<line x1="489.74" y1="340.90" x2="489.74" y2="343.50" stroke="#1a1a1a" stroke-width="0.7"/>
<line x1="330.00" y1="344.30" x2="330.00" y2="346.10" stroke="#1a1a1a" stroke-width="0.8"/>
<line x1="336.00" y1="344.30" x2="336.00" y2="346.10" stroke="#1a1a1a" stroke-width="0.8"/>
<line x1="342.00" y1="344.30" x2="342.00" y2="346.10" stroke="#1a1a1a" stroke-width="0.8"/>
<line x1="348.00" y1="344.30" x2="348.00" y2="346.10" stroke="#1a1a1a" stroke-width="0.8"/>
<line x1="354.00" y1="344.30" x2="354.00" y2="346.10" stroke="#1a1a1a" stroke-width="0.8"/>
<line x1="360.00" y1="344.30" x2="360.00" y2="346.10" stroke="#1a1a1a" stroke-width="0.8"/>
<line x1="366.00" y1="344.30" x2="366.00" y2="346.10" stroke="#1a1a1a" stroke-width="0.8"/>
<line x1="372.00" y1="344.30" x2="372.00" y2="346.10" stroke="#1a1a1a" stroke-width="0.8"/>
<line x1="378.00" y1="344.30" x2="378.00" y2="346.10" stroke="#1a1a1a" stroke-width="0.8"/>
<line x1="384.00" y1="344.30" x2="384.00" y2="346.10" stroke="#1a1a1a" stroke-width="0.8"/>
<line x1="390.00" y1="344.30" x2="390.00" y2="346.10" stroke="#1a1a1a" stroke-width="0.8"/>
<line x1="396.00" y1="344.30" x2="396.00" y2="346.10" stroke="#1a1a1a" stroke-width="0.8"/>
<line x1="402.00" y1="344.30" x2="402.00" y2="346.10" stroke="#1a1a1a" stroke-width="0.8"/>
<line x1="408.00" y1="344.30" x2="408.00" y2="346.10" stroke="#1a1a1a" stroke-width="0.8"/>
<line x1="414.00" y1="344.30" x2="414.00" y2="346.10" stroke="#1a1a1a" stroke-width="0.8"/>
<line x1="420.00" y1="344.30" x2="420.00" y2="346.10" stroke="#1a1a1a" stroke-width="0.8"/>
<line x1="426.00" y1="344.30" x2="426.00" y2="346.10" stroke="#1a1a1a" stroke-width="0.8"/>
<line x1="432.00" y1="344.30" x2="432.00" y2="346.10" stroke="#1a1a1a" stroke-width="0.8"/>
<line x1="438.00" y1="344.30" x2="438.00" y2="346.10" stroke="#1a1a1a" stroke-width="0.8"/>
<line x1="444.00" y1="344.30" x2="444.00" y2="346.10" stroke="#1a1a1a" stroke-width="0.8"/>
<line x1="450.00" y1="344.30" x2="450.00" y2="346.10" stroke="#1a1a1a" stroke-width="0.8"/>
<line x1="456.00" y1="344.30" x2="456.00" y2="346.10" stroke="#1a1a1a" stroke-width="0.8"/>
<line x1="462.00" y1="344.30" x2="462.00" y2="346.10" stroke="#1a1a1a" stroke-width="0.8"/>
<line x1="468.00" y1="344.30" x2="468.00" y2="346.10" stroke="#1a1a1a" stroke-width="0.8"/>
<line x1="474.00" y1="344.30" x2="474.00" y2="346.10" stroke="#1a1a1a" stroke-width="0.8"/>
<line x1="480.00" y1="344.30" x2="480.00" y2="346.10" stroke="#1a1a1a" stroke-width="0.8"/>
<line x1="486.00" y1="344.30" x2="486.00" y2="346.10" stroke="#1a1a1a" stroke-width="0.8"/>
<text x="379.40" y="335.91" font-size="4.8" font-weight="bold" font-style="normal" fill="#111" text-anchor="start" stroke="#111" stroke-width="0.22" textLength="43.30" lengthAdjust="spacingAndGlyphs">UD-PBSCT&#160;&#160;0.077</text>
<text x="446.80" y="335.61" font-size="4.8" font-weight="bold" font-style="normal" fill="#111" text-anchor="start" stroke="#111" stroke-width="0.22" textLength="43.60" lengthAdjust="spacingAndGlyphs">MSD-HSCT&#160;&#160;0.100</text>
<text x="398.20" y="280.61" font-size="4.8" font-weight="bold" font-style="italic" fill="#111" text-anchor="start" stroke="#111" stroke-width="0.22" textLength="19.60" lengthAdjust="spacingAndGlyphs">P&#160;&#160;0.678</text>
<line x1="20.80" y1="400.00" x2="20.80" y2="545.10" stroke="#666" stroke-width="1.3"/>
<line x1="20.20" y1="544.10" x2="242.00" y2="544.10" stroke="#5a5a5a" stroke-width="1.75"/>
<line x1="18.00" y1="544.10" x2="20.80" y2="544.10" stroke="#444" stroke-width="0.9"/>
<text x="12.00" y="546.15" font-size="4.1" font-weight="normal" font-style="normal" fill="#444" text-anchor="start" stroke="#444" stroke-width="0.12" textLength="6.20" lengthAdjust="spacingAndGlyphs">0.0</text>
<line x1="18.00" y1="516.56" x2="20.80" y2="516.56" stroke="#444" stroke-width="0.9"/>
<text x="12.00" y="518.61" font-size="4.1" font-weight="normal" font-style="normal" fill="#444" text-anchor="start" stroke="#444" stroke-width="0.12" textLength="6.20" lengthAdjust="spacingAndGlyphs">0.2</text>
<line x1="18.00" y1="489.02" x2="20.80" y2="489.02" stroke="#444" stroke-width="0.9"/>
<text x="12.00" y="491.07" font-size="4.1" font-weight="normal" font-style="normal" fill="#444" text-anchor="start" stroke="#444" stroke-width="0.12" textLength="6.20" lengthAdjust="spacingAndGlyphs">0.4</text>
<line x1="18.00" y1="461.48" x2="20.80" y2="461.48" stroke="#444" stroke-width="0.9"/>
<text x="12.00" y="463.53" font-size="4.1" font-weight="normal" font-style="normal" fill="#444" text-anchor="start" stroke="#444" stroke-width="0.12" textLength="6.20" lengthAdjust="spacingAndGlyphs">0.6</text>
<line x1="18.00" y1="433.94" x2="20.80" y2="433.94" stroke="#444" stroke-width="0.9"/>
<text x="12.00" y="435.99" font-size="4.1" font-weight="normal" font-style="normal" fill="#444" text-anchor="start" stroke="#444" stroke-width="0.12" textLength="6.20" lengthAdjust="spacingAndGlyphs">0.8</text>
<line x1="18.00" y1="406.40" x2="20.80" y2="406.40" stroke="#444" stroke-width="0.9"/>
<text x="12.00" y="408.45" font-size="4.1" font-weight="normal" font-style="normal" fill="#444" text-anchor="start" stroke="#444" stroke-width="0.12" textLength="6.20" lengthAdjust="spacingAndGlyphs">1.0</text>
<line x1="20.80" y1="544.10" x2="20.80" y2="546.30" stroke="#5a5a5a" stroke-width="0.8"/>
<text x="17.70" y="550.20" font-size="4.1" font-weight="normal" font-style="normal" fill="#444" text-anchor="start" stroke="#444" stroke-width="0.12" textLength="6.20" lengthAdjust="spacingAndGlyphs">0.0</text>
<line x1="47.11" y1="544.10" x2="47.11" y2="546.30" stroke="#5a5a5a" stroke-width="0.8"/>
<text x="44.01" y="550.20" font-size="4.1" font-weight="normal" font-style="normal" fill="#444" text-anchor="start" stroke="#444" stroke-width="0.12" textLength="6.20" lengthAdjust="spacingAndGlyphs">5.0</text>
<line x1="73.42" y1="544.10" x2="73.42" y2="546.30" stroke="#5a5a5a" stroke-width="0.8"/>
<text x="69.22" y="550.20" font-size="4.1" font-weight="normal" font-style="normal" fill="#444" text-anchor="start" stroke="#444" stroke-width="0.12" textLength="8.40" lengthAdjust="spacingAndGlyphs">10.0</text>
<line x1="99.74" y1="544.10" x2="99.74" y2="546.30" stroke="#5a5a5a" stroke-width="0.8"/>
<text x="95.54" y="550.20" font-size="4.1" font-weight="normal" font-style="normal" fill="#444" text-anchor="start" stroke="#444" stroke-width="0.12" textLength="8.40" lengthAdjust="spacingAndGlyphs">15.0</text>
<line x1="126.05" y1="544.10" x2="126.05" y2="546.30" stroke="#5a5a5a" stroke-width="0.8"/>
<text x="121.85" y="550.20" font-size="4.1" font-weight="normal" font-style="normal" fill="#444" text-anchor="start" stroke="#444" stroke-width="0.12" textLength="8.40" lengthAdjust="spacingAndGlyphs">20.0</text>
<line x1="152.36" y1="544.10" x2="152.36" y2="546.30" stroke="#5a5a5a" stroke-width="0.8"/>
<text x="148.16" y="550.20" font-size="4.1" font-weight="normal" font-style="normal" fill="#444" text-anchor="start" stroke="#444" stroke-width="0.12" textLength="8.40" lengthAdjust="spacingAndGlyphs">25.0</text>
<line x1="178.68" y1="544.10" x2="178.68" y2="546.30" stroke="#5a5a5a" stroke-width="0.8"/>
<text x="174.48" y="550.20" font-size="4.1" font-weight="normal" font-style="normal" fill="#444" text-anchor="start" stroke="#444" stroke-width="0.12" textLength="8.40" lengthAdjust="spacingAndGlyphs">30.0</text>
<line x1="204.99" y1="544.10" x2="204.99" y2="546.30" stroke="#5a5a5a" stroke-width="0.8"/>
<text x="200.79" y="550.20" font-size="4.1" font-weight="normal" font-style="normal" fill="#444" text-anchor="start" stroke="#444" stroke-width="0.12" textLength="8.40" lengthAdjust="spacingAndGlyphs">35.0</text>
<line x1="231.30" y1="544.10" x2="231.30" y2="546.30" stroke="#5a5a5a" stroke-width="0.8"/>
<text x="227.10" y="550.20" font-size="4.1" font-weight="normal" font-style="normal" fill="#444" text-anchor="start" stroke="#444" stroke-width="0.12" textLength="8.40" lengthAdjust="spacingAndGlyphs">40.0</text>
<text x="2.20" y="397.10" font-size="11.2" font-weight="bold" font-style="normal" fill="#111" text-anchor="start" stroke="#111" stroke-width="0.4">E</text>
<text x="8.90" y="471.50" font-size="5.2" font-weight="bold" font-style="normal" fill="#111" text-anchor="middle" textLength="51.00" lengthAdjust="spacingAndGlyphs" transform="rotate(-90 8.90 471.50)">Rejection Probability</text>
<text x="91.60" y="559.30" font-size="6" font-weight="bold" font-style="normal" fill="#111" text-anchor="start" stroke="#111" stroke-width="0.15" textLength="79.20" lengthAdjust="spacingAndGlyphs">Months after transplantation</text>
<path d="M20.80,544.10 H24.60 V534.40 H221.20 V534.40" fill="none" stroke="#1a1a1a" stroke-width="1.2"/>
<path d="M24.60,544.10 H24.60 V541.60 H215.40 V541.60" fill="none" stroke="#1a1a1a" stroke-width="1.25" stroke-dasharray="2 1.1"/>
<line x1="78.95" y1="533.10" x2="78.95" y2="535.70" stroke="#1a1a1a" stroke-width="0.7"/>
<line x1="83.95" y1="533.10" x2="83.95" y2="535.70" stroke="#1a1a1a" stroke-width="0.7"/>
<line x1="89.21" y1="533.10" x2="89.21" y2="535.70" stroke="#1a1a1a" stroke-width="0.7"/>
<line x1="94.26" y1="533.10" x2="94.26" y2="535.70" stroke="#1a1a1a" stroke-width="0.7"/>
<line x1="105.26" y1="533.10" x2="105.26" y2="535.70" stroke="#1a1a1a" stroke-width="0.7"/>
<line x1="110.26" y1="533.10" x2="110.26" y2="535.70" stroke="#1a1a1a" stroke-width="0.7"/>
<line x1="115.52" y1="533.10" x2="115.52" y2="535.70" stroke="#1a1a1a" stroke-width="0.7"/>
<line x1="136.58" y1="533.10" x2="136.58" y2="535.70" stroke="#1a1a1a" stroke-width="0.7"/>
<line x1="140.79" y1="533.10" x2="140.79" y2="535.70" stroke="#1a1a1a" stroke-width="0.7"/>
<line x1="145.26" y1="533.10" x2="145.26" y2="535.70" stroke="#1a1a1a" stroke-width="0.7"/>
<line x1="152.36" y1="533.10" x2="152.36" y2="535.70" stroke="#1a1a1a" stroke-width="0.7"/>
<line x1="163.41" y1="533.10" x2="163.41" y2="535.70" stroke="#1a1a1a" stroke-width="0.7"/>
<line x1="168.15" y1="533.10" x2="168.15" y2="535.70" stroke="#1a1a1a" stroke-width="0.7"/>
<line x1="173.41" y1="533.10" x2="173.41" y2="535.70" stroke="#1a1a1a" stroke-width="0.7"/>
<line x1="188.99" y1="533.10" x2="188.99" y2="535.70" stroke="#1a1a1a" stroke-width="0.7"/>
<line x1="193.94" y1="533.10" x2="193.94" y2="535.70" stroke="#1a1a1a" stroke-width="0.7"/>
<line x1="210.25" y1="533.10" x2="210.25" y2="535.70" stroke="#1a1a1a" stroke-width="0.7"/>
<line x1="216.04" y1="533.10" x2="216.04" y2="535.70" stroke="#1a1a1a" stroke-width="0.7"/>
<line x1="30.00" y1="540.70" x2="30.00" y2="542.50" stroke="#1a1a1a" stroke-width="0.8"/>
<line x1="36.00" y1="540.70" x2="36.00" y2="542.50" stroke="#1a1a1a" stroke-width="0.8"/>
<line x1="42.00" y1="540.70" x2="42.00" y2="542.50" stroke="#1a1a1a" stroke-width="0.8"/>
<line x1="48.00" y1="540.70" x2="48.00" y2="542.50" stroke="#1a1a1a" stroke-width="0.8"/>
<line x1="54.00" y1="540.70" x2="54.00" y2="542.50" stroke="#1a1a1a" stroke-width="0.8"/>
<line x1="60.00" y1="540.70" x2="60.00" y2="542.50" stroke="#1a1a1a" stroke-width="0.8"/>
<line x1="66.00" y1="540.70" x2="66.00" y2="542.50" stroke="#1a1a1a" stroke-width="0.8"/>
<line x1="72.00" y1="540.70" x2="72.00" y2="542.50" stroke="#1a1a1a" stroke-width="0.8"/>
<line x1="78.00" y1="540.70" x2="78.00" y2="542.50" stroke="#1a1a1a" stroke-width="0.8"/>
<line x1="84.00" y1="540.70" x2="84.00" y2="542.50" stroke="#1a1a1a" stroke-width="0.8"/>
<line x1="90.00" y1="540.70" x2="90.00" y2="542.50" stroke="#1a1a1a" stroke-width="0.8"/>
<line x1="96.00" y1="540.70" x2="96.00" y2="542.50" stroke="#1a1a1a" stroke-width="0.8"/>
<line x1="102.00" y1="540.70" x2="102.00" y2="542.50" stroke="#1a1a1a" stroke-width="0.8"/>
<line x1="108.00" y1="540.70" x2="108.00" y2="542.50" stroke="#1a1a1a" stroke-width="0.8"/>
<line x1="114.00" y1="540.70" x2="114.00" y2="542.50" stroke="#1a1a1a" stroke-width="0.8"/>
<line x1="120.00" y1="540.70" x2="120.00" y2="542.50" stroke="#1a1a1a" stroke-width="0.8"/>
<line x1="126.00" y1="540.70" x2="126.00" y2="542.50" stroke="#1a1a1a" stroke-width="0.8"/>
<line x1="132.00" y1="540.70" x2="132.00" y2="542.50" stroke="#1a1a1a" stroke-width="0.8"/>
<line x1="138.00" y1="540.70" x2="138.00" y2="542.50" stroke="#1a1a1a" stroke-width="0.8"/>
<line x1="144.00" y1="540.70" x2="144.00" y2="542.50" stroke="#1a1a1a" stroke-width="0.8"/>
<line x1="150.00" y1="540.70" x2="150.00" y2="542.50" stroke="#1a1a1a" stroke-width="0.8"/>
<line x1="156.00" y1="540.70" x2="156.00" y2="542.50" stroke="#1a1a1a" stroke-width="0.8"/>
<line x1="162.00" y1="540.70" x2="162.00" y2="542.50" stroke="#1a1a1a" stroke-width="0.8"/>
<line x1="168.00" y1="540.70" x2="168.00" y2="542.50" stroke="#1a1a1a" stroke-width="0.8"/>
<line x1="174.00" y1="540.70" x2="174.00" y2="542.50" stroke="#1a1a1a" stroke-width="0.8"/>
<line x1="180.00" y1="540.70" x2="180.00" y2="542.50" stroke="#1a1a1a" stroke-width="0.8"/>
<line x1="186.00" y1="540.70" x2="186.00" y2="542.50" stroke="#1a1a1a" stroke-width="0.8"/>
<line x1="192.00" y1="540.70" x2="192.00" y2="542.50" stroke="#1a1a1a" stroke-width="0.8"/>
<line x1="198.00" y1="540.70" x2="198.00" y2="542.50" stroke="#1a1a1a" stroke-width="0.8"/>
<line x1="204.00" y1="540.70" x2="204.00" y2="542.50" stroke="#1a1a1a" stroke-width="0.8"/>
<line x1="210.00" y1="540.70" x2="210.00" y2="542.50" stroke="#1a1a1a" stroke-width="0.8"/>
<text x="94.70" y="526.81" font-size="4.8" font-weight="bold" font-style="normal" fill="#111" text-anchor="start" stroke="#111" stroke-width="0.22" textLength="42.50" lengthAdjust="spacingAndGlyphs">UD-PBSCT&#160;&#160;0.019</text>
<text x="168.20" y="526.81" font-size="4.8" font-weight="bold" font-style="normal" fill="#111" text-anchor="start" stroke="#111" stroke-width="0.22" textLength="44.20" lengthAdjust="spacingAndGlyphs">MSD-HSCT&#160;&#160;0.069</text>
<text x="130.50" y="472.11" font-size="4.8" font-weight="bold" font-style="italic" fill="#111" text-anchor="start" stroke="#111" stroke-width="0.22" textLength="19.70" lengthAdjust="spacingAndGlyphs">P&#160;&#160;0.259</text></svg>
</body></html>
